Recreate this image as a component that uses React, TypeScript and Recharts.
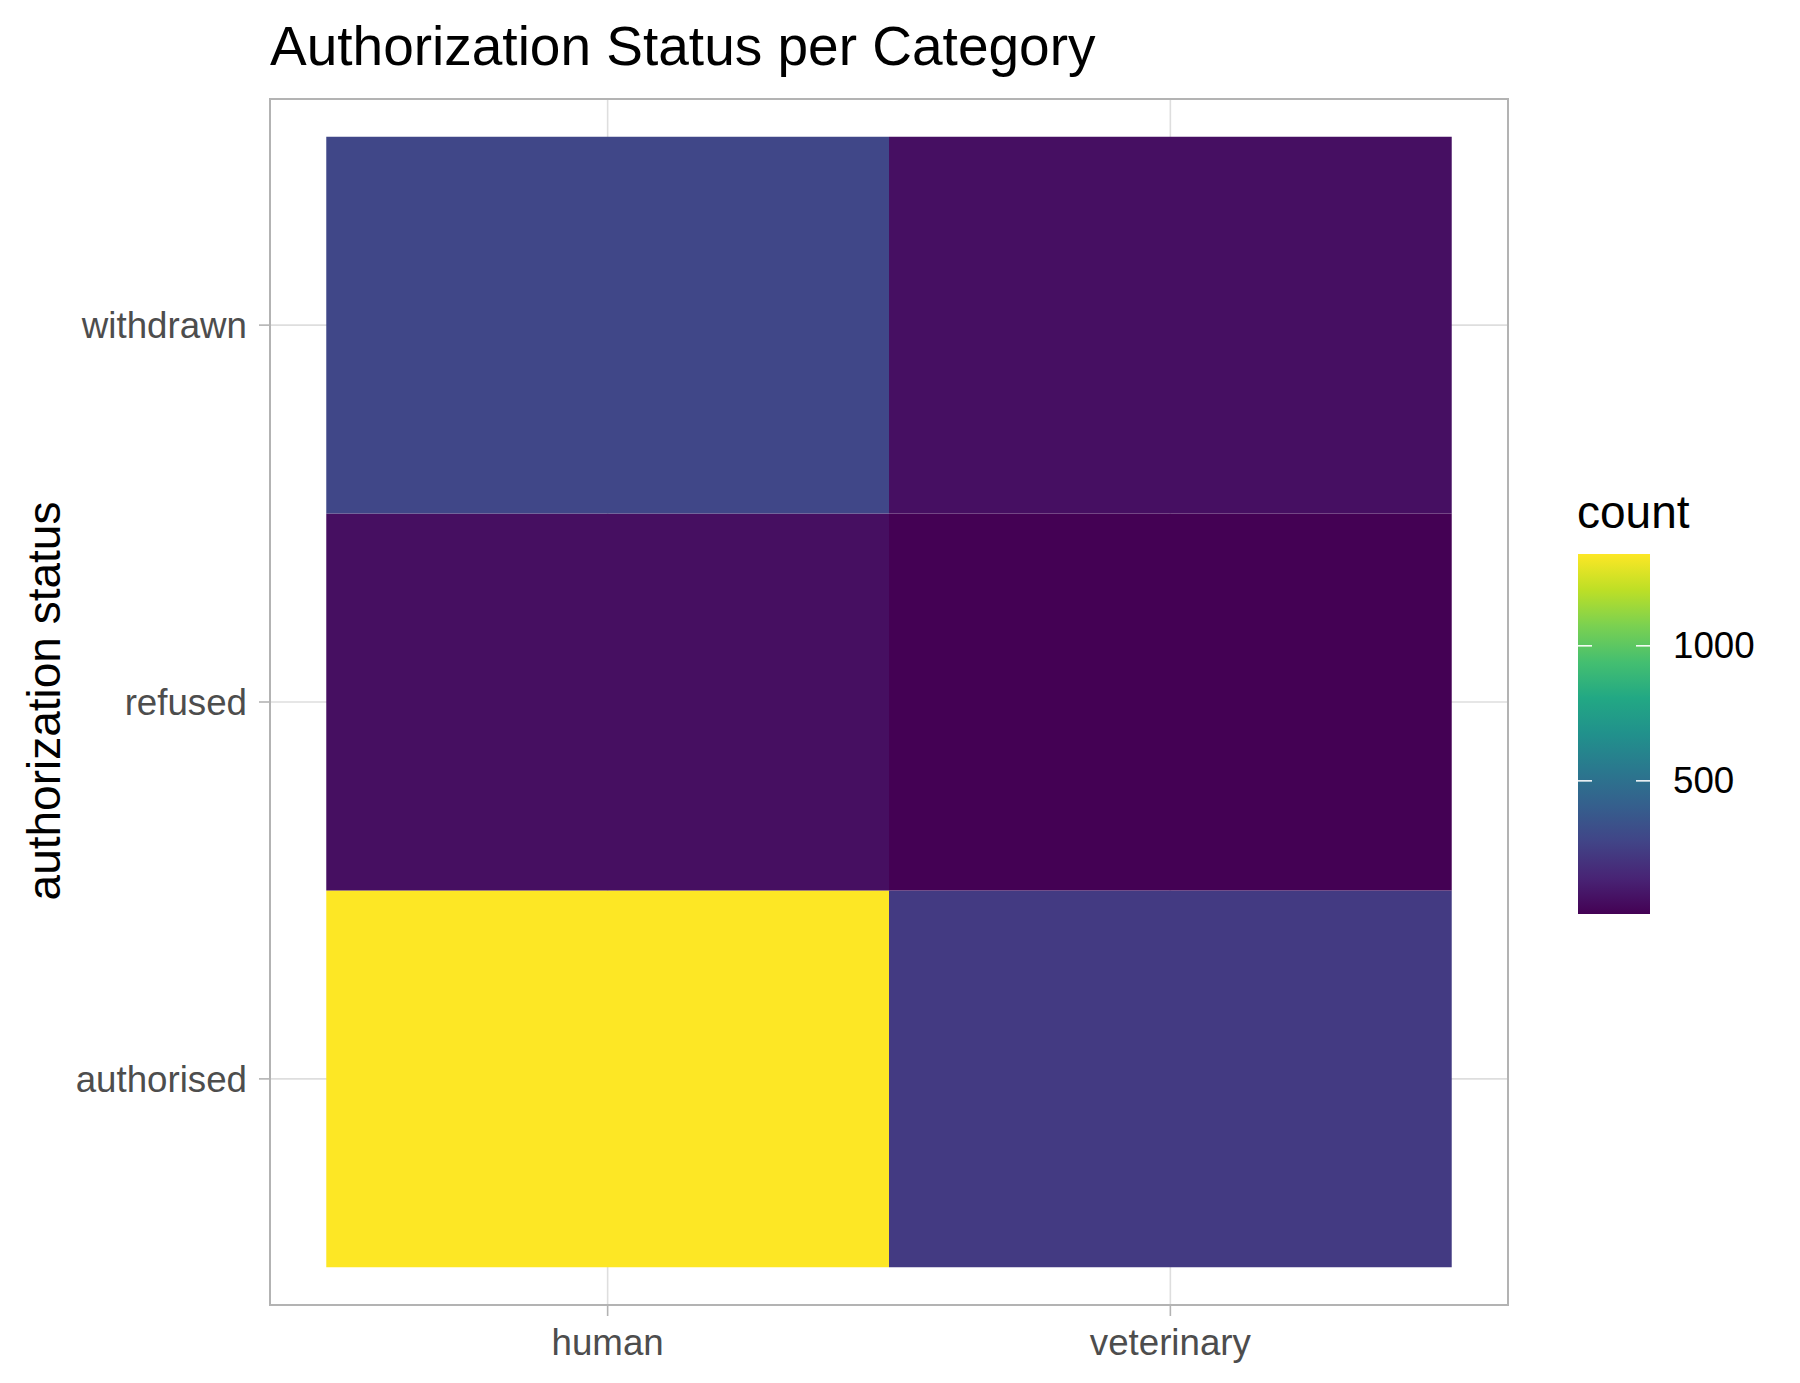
import React from 'react';
import {
  ScatterChart,
  Scatter,
  XAxis,
  YAxis,
  CartesianGrid,
  ReferenceArea,
} from 'recharts';

const categories = ['human', 'veterinary'];
const statuses = ['authorised', 'refused', 'withdrawn'];
const humanCounts = [1340, 60, 286];
const veterinaryCounts = [233, 7, 62];
const legendTicks = [500, 1000];

// viridis colour stops (t = 0 .. 1)
const viridis = [
  '#440154', '#482475', '#414487', '#355F8D', '#2A788E', '#21918C',
  '#22A884', '#44BF70', '#7AD151', '#BDDF26', '#FDE725',
];

const FONT = '"Liberation Sans", Arial, Helvetica, sans-serif';

const hexToRgb = (h: string) => [
  parseInt(h.slice(1, 3), 16),
  parseInt(h.slice(3, 5), 16),
  parseInt(h.slice(5, 7), 16),
];

const viridisAt = (t: number) => {
  const c = Math.max(0, Math.min(1, t)) * (viridis.length - 1);
  const i = Math.min(Math.floor(c), viridis.length - 2);
  const f = c - i;
  const a = hexToRgb(viridis[i]);
  const b = hexToRgb(viridis[i + 1]);
  const m = a.map((v, k) => Math.round(v + (b[k] - v) * f));
  return `rgb(${m[0]},${m[1]},${m[2]})`;
};

const allCounts = [...humanCounts, ...veterinaryCounts];
const minCount = Math.min(...allCounts);
const maxCount = Math.max(...allCounts);

const cells = [humanCounts, veterinaryCounts].flatMap((counts, ci) =>
  counts.map((count, si) => ({
    x: ci + 1,
    y: si + 1,
    category: categories[ci],
    status: statuses[si],
    count,
  }))
);

// legend bar geometry
const BAR_X = 1578;
const BAR_W = 72;
const BAR_TOP = 554;
const BAR_BOTTOM = 914;
const barY = (v: number) =>
  BAR_BOTTOM - ((v - minCount) / (maxCount - minCount)) * (BAR_BOTTOM - BAR_TOP);

const ColourBar = () => (
  <svg
    width={1800}
    height={1383}
    style={{ position: 'absolute', left: 0, top: 0, pointerEvents: 'none' }}
  >
    <defs>
      <linearGradient id="viridisGrad" x1="0" y1="1" x2="0" y2="0">
        {viridis.map((c, i) => (
          <stop key={i} offset={i / (viridis.length - 1)} stopColor={c} />
        ))}
      </linearGradient>
    </defs>
    <text x={1577} y={528} fontSize={46} fontFamily={FONT} fill="#000">
      count
    </text>
    <rect x={BAR_X} y={BAR_TOP} width={BAR_W} height={BAR_BOTTOM - BAR_TOP} fill="url(#viridisGrad)" />
    {legendTicks.map((v) => (
      <g key={v}>
        <line x1={BAR_X} x2={BAR_X + 14} y1={barY(v)} y2={barY(v)} stroke="#fff" strokeWidth={1.5} />
        <line x1={BAR_X + BAR_W - 14} x2={BAR_X + BAR_W} y1={barY(v)} y2={barY(v)} stroke="#fff" strokeWidth={1.5} />
        <text
          x={1673}
          y={barY(v)}
          fontSize={36.7}
          fontFamily={FONT}
          fill="#000"
          dominantBaseline="central"
        >
          {v}
        </text>
      </g>
    ))}
  </svg>
);

export default function App() {
  return (
    <div
      style={{
        position: 'absolute',
        left: 0,
        top: 0,
        width: 1800,
        height: 1383,
        background: '#fff',
        fontFamily: FONT,
      }}
    >
      <ScatterChart
        width={1800}
        height={1383}
        margin={{ top: 99, right: 292, bottom: 18, left: 70 }}
      >
        <CartesianGrid stroke="#DEDEDE" strokeWidth={1.6} />
        <XAxis
          type="number"
          dataKey="x"
          domain={[0.4, 2.6]}
          ticks={[1, 2]}
          allowDataOverflow
          height={60}
          axisLine={false}
          tickLine={{ stroke: '#B3B3B3', strokeWidth: 1.6 }}
          tickSize={11}
          tickMargin={13}
          tick={{ fontSize: 36.7, fill: '#4D4D4D', fontFamily: FONT }}
          tickFormatter={(v: number) => categories[v - 1] ?? ''}
        />
        <YAxis
          type="number"
          dataKey="y"
          domain={[0.4, 3.6]}
          ticks={[1, 2, 3]}
          allowDataOverflow
          width={200}
          axisLine={false}
          tickLine={{ stroke: '#B3B3B3', strokeWidth: 1.6 }}
          tickSize={11}
          tickMargin={12}
          tick={{ fontSize: 36.7, fill: '#4D4D4D', fontFamily: FONT }}
          tickFormatter={(v: number) => statuses[v - 1] ?? ''}
        />
        {cells.map((c) => (
          <ReferenceArea
            key={`${c.category}-${c.status}`}
            x1={c.x - 0.5}
            x2={c.x + 0.5}
            y1={c.y - 0.5}
            y2={c.y + 0.5}
            fill={viridisAt((c.count - minCount) / (maxCount - minCount))}
            fillOpacity={1}
            stroke="none"
            ifOverflow="visible"
          />
        ))}
        <ReferenceArea
          x1={0.4}
          x2={2.6}
          y1={0.4}
          y2={3.6}
          fill="none"
          fillOpacity={0}
          stroke="#B3B3B3"
          strokeWidth={2}
          ifOverflow="visible"
        />
        <Scatter data={cells} isAnimationActive={false} shape={() => <g />} />
      </ScatterChart>
      <svg
        width={1800}
        height={1383}
        style={{ position: 'absolute', left: 0, top: 0, pointerEvents: 'none' }}
      >
        <text x={270} y={65} fontSize={55} fontFamily={FONT} fill="#000">
          Authorization Status per Category
        </text>
        <text
          x={60}
          y={701}
          fontSize={46}
          fontFamily={FONT}
          fill="#000"
          textAnchor="middle"
          transform="rotate(-90 60 701)"
        >
          authorization status
        </text>
      </svg>
      <ColourBar />
    </div>
  );
}
